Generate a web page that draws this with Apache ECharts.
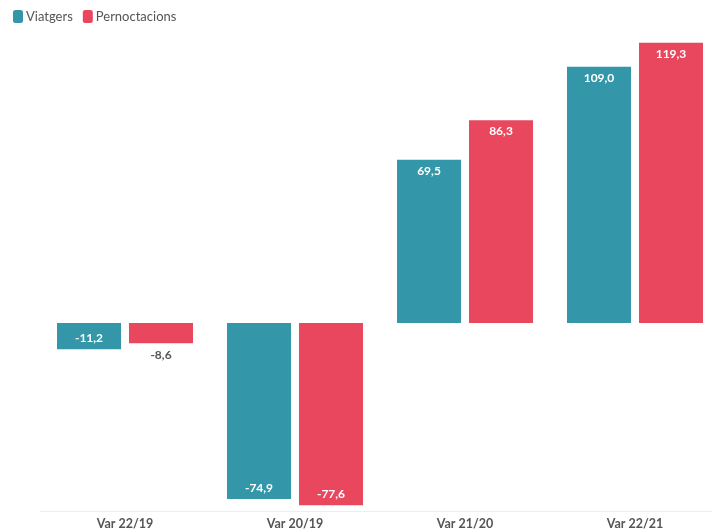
<!DOCTYPE html>
<html>
<head>
    <meta charset="UTF-8">
    <title>Viatgers i pernoctacions</title>
    <style>
        body { margin: 0; background: #fff; }
        #chart { width: 712px; height: 532px; }
    </style>
</head>
<body>
    <div id="chart"></div>
    <script src="https://cdn.jsdelivr.net/npm/echarts@6/dist/echarts.min.js"></script>
    <script>
        // dades
        const categories = ['Var 22/19', 'Var 20/19', 'Var 21/20', 'Var 22/21'];
        const viatgers = [-11.2, -74.9, 69.5, 109.0];
        const pernoctacions = [-8.6, -77.6, 86.3, 119.3];

        const fmt = v => v.toFixed(1).replace('.', ',');

        // etiqueta dins la barra, o a fora si la barra és massa petita
        function withLabels(values) {
            return values.map(v => {
                const small = Math.abs(v) < 10;
                let label;
                if (small) {
                    label = { position: v < 0 ? 'bottom' : 'top', color: '#555', distance: 6 };
                } else {
                    label = { position: v < 0 ? 'insideBottom' : 'insideTop', color: '#fff', distance: 5 };
                }
                return { value: v, label: label };
            });
        }

        const chart = echarts.init(document.getElementById('chart'));
        chart.setOption({
            animation: false,
            textStyle: { fontFamily: 'Lato, "Open Sans", sans-serif' },
            legend: {
                left: 8, top: 5,
                itemWidth: 10, itemHeight: 13, itemGap: 10,
                icon: 'roundRect',
                textStyle: { color: '#555', fontSize: 13, padding: [0, 0, 0, -2] }
            },
            grid: { left: 40, right: -8, top: 41, bottom: 21, outerBoundsMode: 'none' },
            xAxis: {
                type: 'category',
                data: categories,
                axisLine: { onZero: false, lineStyle: { color: '#eee', width: 1 } },
                axisTick: { alignWithLabel: true, length: 5, lineStyle: { color: '#e6e6e6' } },
                axisLabel: { color: '#555', fontWeight: 'bold', fontSize: 12.5, margin: 6 }
            },
            yAxis: {
                type: 'value',
                min: -80, max: 120,
                show: false,
                splitLine: { show: false }
            },
            series: [
                {
                    name: 'Viatgers', type: 'bar',
                    barWidth: 64, barGap: '12.5%',
                    itemStyle: { color: '#3497a9' },
                    label: { show: true, fontWeight: 'bold', fontSize: 12, formatter: p => fmt(p.value) },
                    data: withLabels(viatgers)
                },
                {
                    name: 'Pernoctacions', type: 'bar',
                    barWidth: 64, barGap: '12.5%',
                    itemStyle: { color: '#e8475e' },
                    label: { show: true, fontWeight: 'bold', fontSize: 12, formatter: p => fmt(p.value) },
                    data: withLabels(pernoctacions)
                }
            ]
        });
    </script>
</body>
</html>
